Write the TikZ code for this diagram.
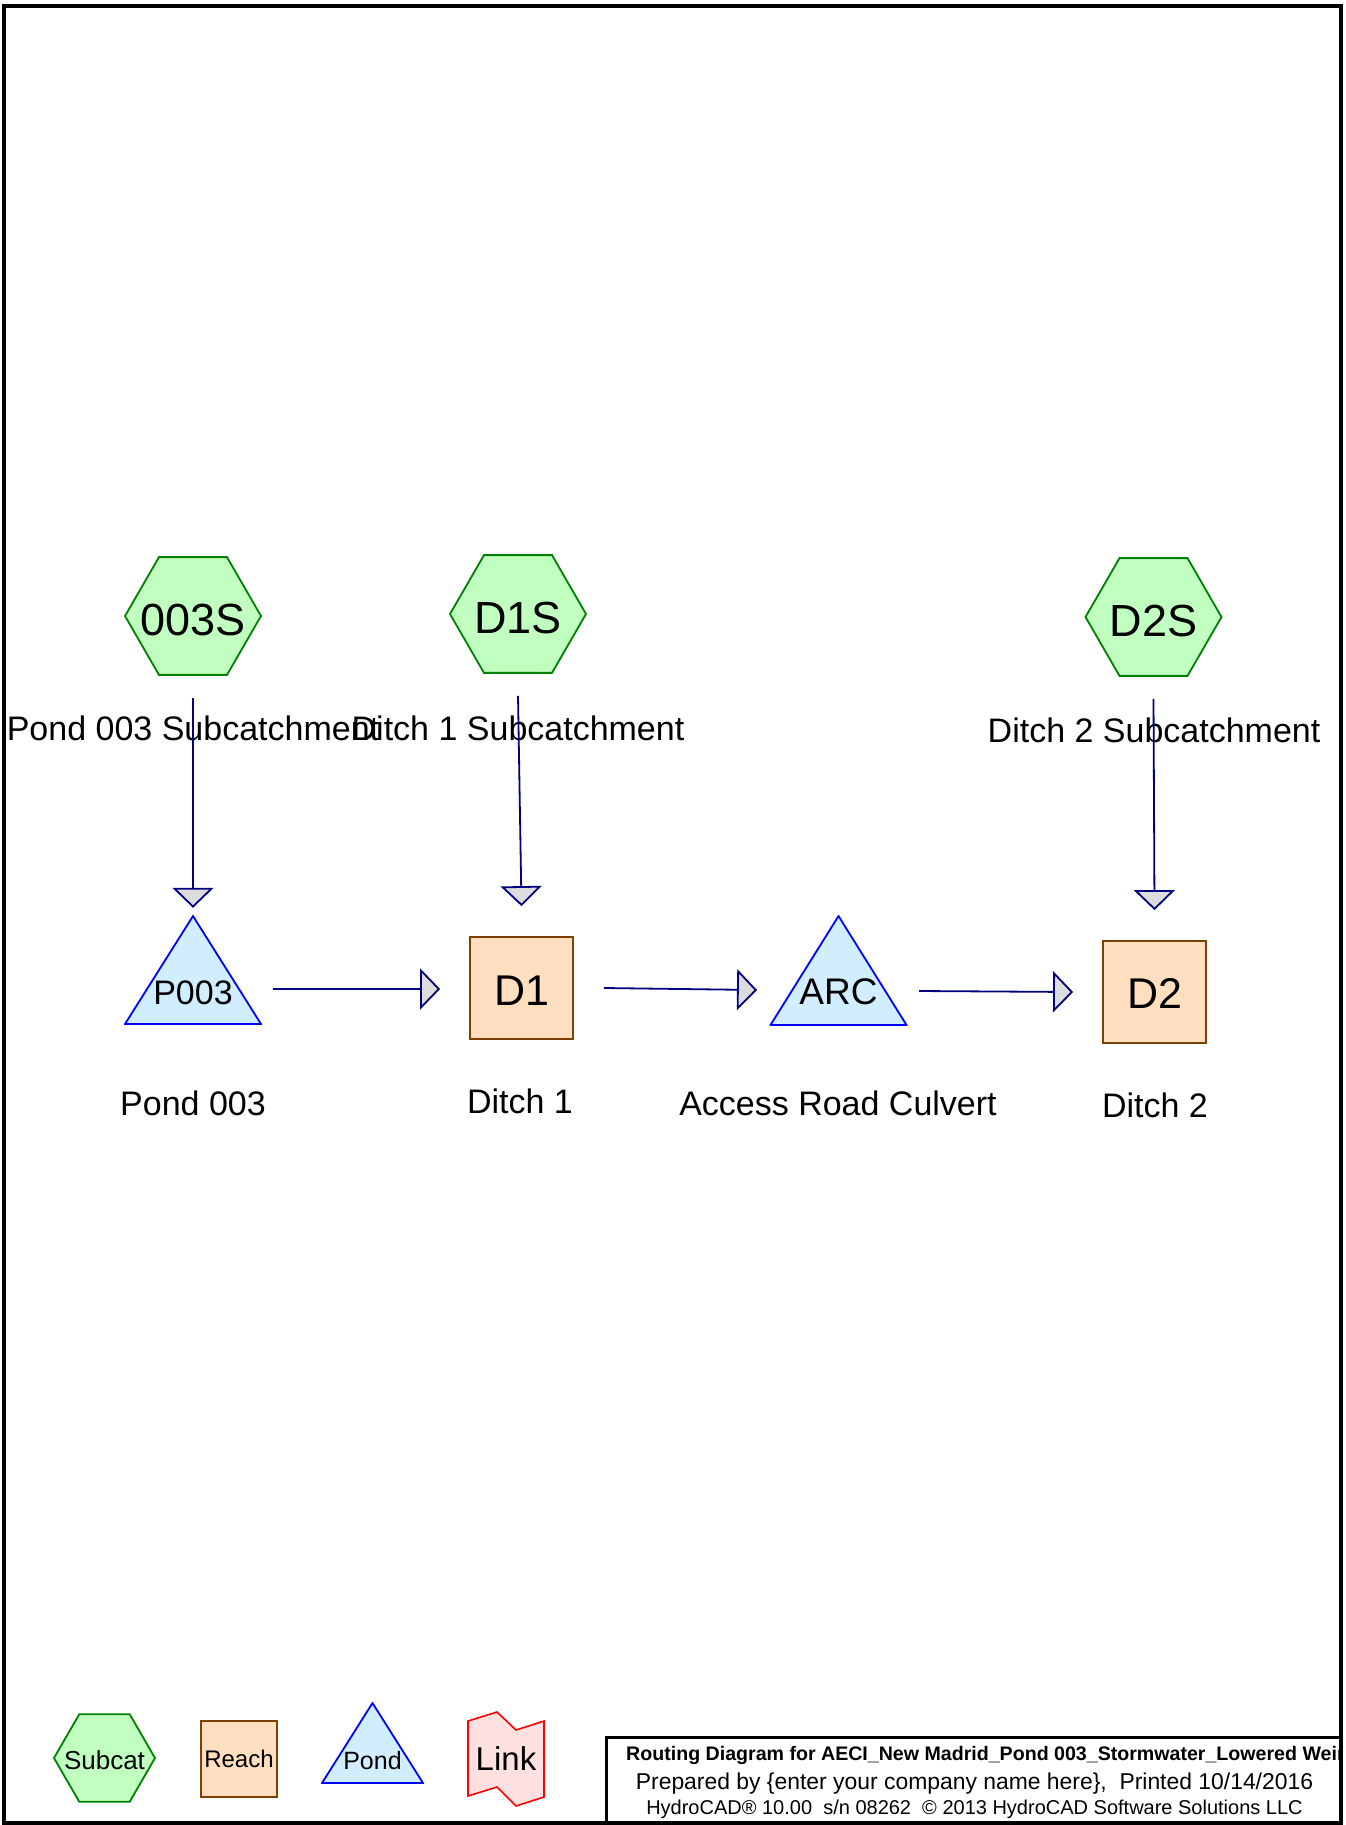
\documentclass[tikz,border=0pt]{standalone}
\usepackage{fontspec}
\setmainfont{Liberation Sans}
\usetikzlibrary{shapes.geometric,arrows.meta,calc}
\definecolor{hexfill}{HTML}{C0FFC0}
\definecolor{hexdraw}{HTML}{008000}
\definecolor{reachfill}{HTML}{FFDFBF}
\definecolor{reachdraw}{HTML}{804000}
\definecolor{pondfill}{HTML}{D0EEFF}
\definecolor{ponddraw}{HTML}{0000FF}
\definecolor{linkfill}{HTML}{FFE0E0}
\definecolor{linkdraw}{HTML}{FF0000}
\definecolor{flowcol}{HTML}{000080}
\definecolor{tipfill}{HTML}{DCDCDC}
\newcommand{\fsz}[1]{\fontsize{#1pt}{#1pt}\selectfont}
\newcommand{\ctext}[2][0.358em]{\raisebox{-#1}[0pt][0pt]{\makebox[0pt]{#2}}}
\begin{document}
\begin{tikzpicture}[x=1pt,y=-1pt,
  subcat/.style={regular polygon, regular polygon sides=6, inner sep=0pt,
    fill=hexfill, draw=hexdraw, line width=1.8pt},
  reach/.style={rectangle, inner sep=0pt, fill=reachfill, draw=reachdraw, line width=1.8pt},
  pondnode/.style={rectangle, inner sep=0pt, draw=none, text depth=0pt,
    path picture={\filldraw[fill=pondfill, draw=ponddraw, line width=1.8pt]
      ([shift={(1pt,1pt)}]path picture bounding box.south west) --
      ([shift={(-1pt,1pt)}]path picture bounding box.south east) --
      ([shift={(0pt,-1pt)}]path picture bounding box.north) -- cycle;}},
  linknode/.style={rectangle, inner sep=0pt, draw=none,
    path picture={\filldraw[fill=linkfill, draw=linkdraw, line width=1.6pt]
      ([shift={(1pt,-10pt)}]path picture bounding box.north west) --
      ([shift={(30pt,-1pt)}]path picture bounding box.north west) --
      ([shift={(49pt,-19pt)}]path picture bounding box.north west) --
      ([shift={(77pt,-10pt)}]path picture bounding box.north west) --
      ([shift={(77pt,-86pt)}]path picture bounding box.north west) --
      ([shift={(49pt,-95pt)}]path picture bounding box.north west) --
      ([shift={(30pt,-76pt)}]path picture bounding box.north west) --
      ([shift={(1pt,-85pt)}]path picture bounding box.north west) -- cycle;}},
  lbl/.style={anchor=base, inner sep=0pt, font=\fsz{34}},
  flow/.style={draw=flowcol, line width=1.8pt,
    -{Triangle[width=41pt,length=20pt,fill=tipfill]}}
]
\useasboundingbox (0,0) rectangle (1345,1825);

% main nodes
\node[subcat, minimum size=136pt, font=\fsz{45}] (S003) at (193,616) {\ctext[0.43em]{003S}};
\node[subcat, minimum size=136pt, font=\fsz{45}] (D1S) at (518,614) {\ctext[0.43em]{D1S}};
\node[subcat, minimum size=136pt, font=\fsz{45}] (D2S) at (1153.5,617) {\ctext[0.43em]{D2S}};

\node[pondnode, minimum width=138pt, minimum height=110pt, text height=68pt, font=\fsz{34}] (P003) at (193,970) {P003};
\node[reach, minimum width=103pt, minimum height=102pt, font=\fsz{43}] (D1) at (521.5,988) {\ctext[0.41em]{D1}};
\node[pondnode, minimum width=138pt, minimum height=111pt, text height=68pt, font=\fsz{37}] (ARC) at (838.5,970.5) {ARC};
\node[reach, minimum width=103pt, minimum height=102pt, font=\fsz{43}] (D2) at (1154.5,992) {\ctext[0.39em]{D2}};

% labels
\node[lbl] (L003S) at (193,740) {Pond 003 Subcatchment};
\node[lbl] (LD1S) at (518,740) {Ditch 1 Subcatchment};
\node[lbl] (LD2S) at (1154,742) {Ditch 2 Subcatchment};
\node[lbl] (LP003) at (193,1115) {Pond 003};
\node[lbl] (LD1) at (520,1113) {Ditch 1};
\node[lbl] (LARC) at (838,1115) {Access Road Culvert};
\node[lbl] (LD2) at (1155,1117) {Ditch 2};

% connectors
\draw[flow] ([yshift=-22pt]S003.south) -- ([yshift=7pt]P003.north);
\draw[flow] ([yshift=-22pt]D1S.south) -- ([yshift=30pt]D1.north);
\draw[flow] ([yshift=-22pt]D2S.south) -- ([yshift=30pt]D2.north);
\draw[flow] ($(P003.center)+(80,19)$) -- ($(D1.west)+(-29,1)$);
\draw[flow] ([xshift=30pt]D1.east) -- ($(ARC.center)+(-81.5,19.5)$);
\draw[flow] ($(ARC.center)+(80.5,20.5)$) -- ([xshift=-29pt]D2.west);

% legend
\node[subcat, minimum size=101pt, font=\fsz{26}] (legS) at (104.5,1758) {\ctext[0.44em]{Subcat}};
\node[reach, minimum width=76pt, minimum height=76pt, font=\fsz{24}] (legR) at (239,1759) {Reach};
\node[pondnode, minimum width=103pt, minimum height=82pt, text height=52pt, font=\fsz{25}] (legP) at (372.5,1743) {Pond};
\node[linknode, minimum width=78pt, minimum height=96pt, font=\fsz{33}] (legL) at (506,1759) {Link};

% title block
\begin{scope}
\clip (607.5,1738.5) rectangle (1338.5,1821);
\node[anchor=base west, inner sep=0pt, font=\bfseries\fsz{19.6}] (title) at (626,1760.5)
  {Routing Diagram for AECI\_New Madrid\_Pond 003\_Stormwater\_Lowered Weir};
\node[anchor=base, inner sep=0pt, font=\fsz{22.9}] (prep) at (974.5,1789)
  {Prepared by \{enter your company name here\},\ \ Printed 10/14/2016};
\node[anchor=base, inner sep=0pt, font=\fsz{20}] (soft) at (974.5,1814)
  {HydroCAD® 10.00\ \ s/n 08262\ \ © 2013 HydroCAD Software Solutions LLC};
\end{scope}
\draw[line width=3pt] (606,1737) rectangle (1340.5,1823);
\draw[line width=4pt] (4,6) rectangle (1340.5,1823);
\end{tikzpicture}
\end{document}
